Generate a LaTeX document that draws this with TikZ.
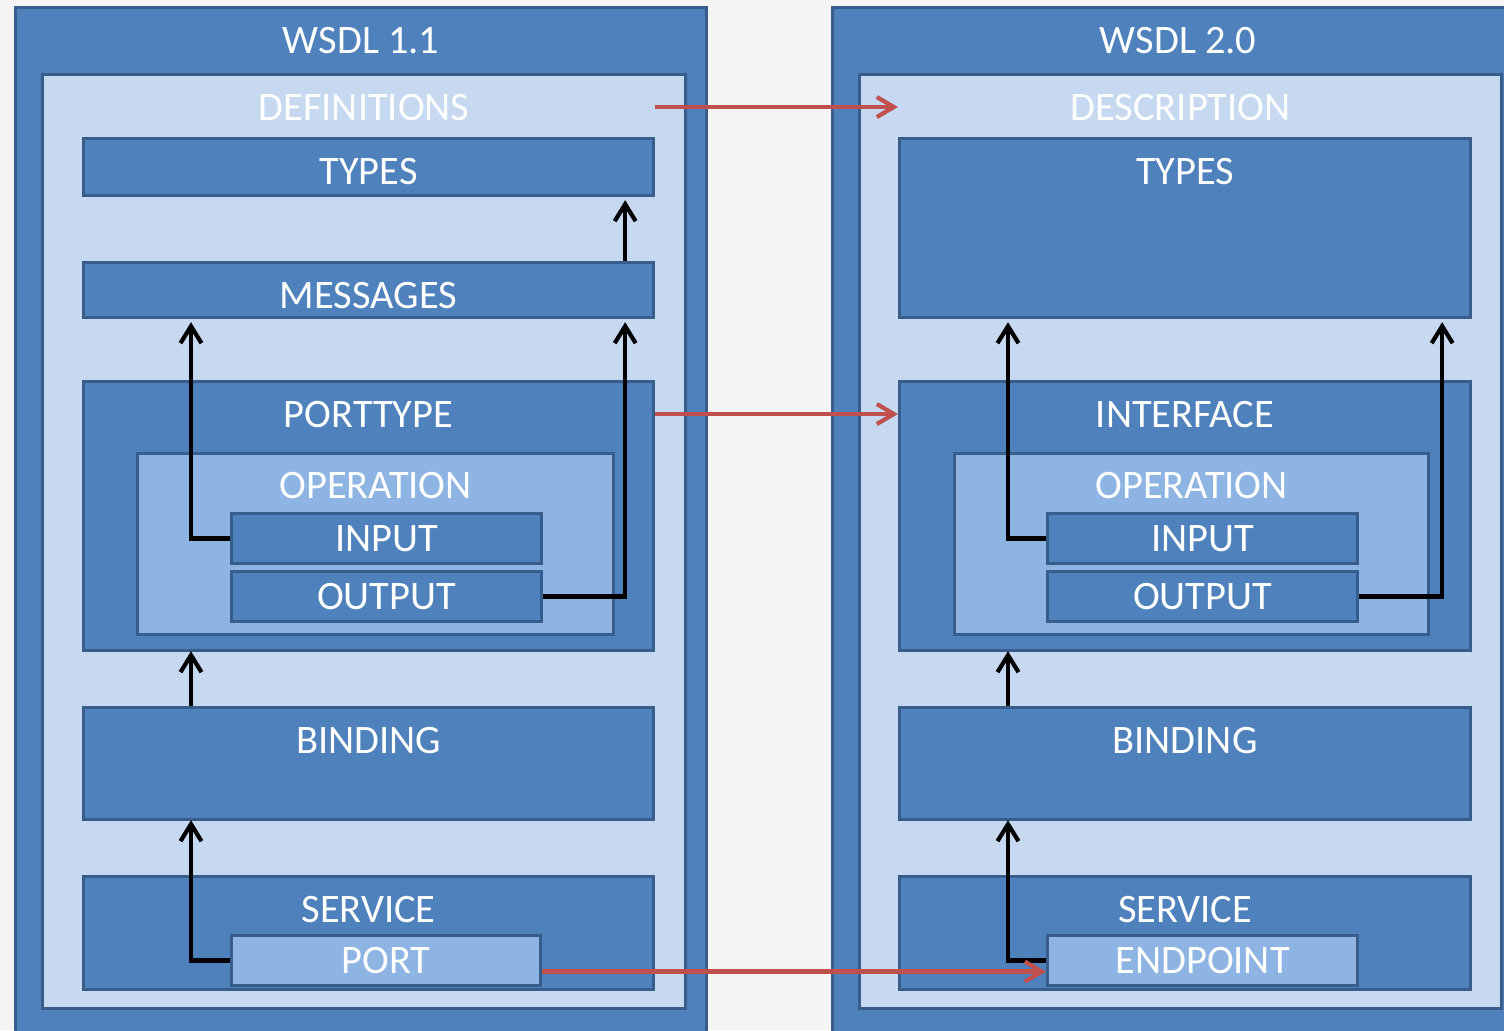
\documentclass[tikz,border=0pt]{standalone}
\usepackage{fontspec}
\setmainfont{Carlito}
\usetikzlibrary{arrows.meta,positioning}

\definecolor{bgcol}{HTML}{F4F4F4}
\definecolor{midblue}{HTML}{4F81BD}
\definecolor{edgeblue}{HTML}{385D8A}
\definecolor{paleblue}{HTML}{C6D9F1}
\definecolor{opblue}{HTML}{8EB4E3}
\definecolor{maproute}{HTML}{C0504D}

\tikzset{
  box/.style={draw=edgeblue, line width=0.9pt, fill=midblue, inner sep=0pt,
    anchor=north west, text=white, font=\fontsize{11.5}{13}\selectfont},
  palebox/.style={box, fill=paleblue},
  opbox/.style={box, fill=opblue},
  lbl/.style={text=white, anchor=base, inner sep=0pt, font=\fontsize{11.5}{13}\selectfont},
  link/.style={line width=1.2pt, black, -{Straight Barb[length=1.7mm,width=2.1mm]}, shorten >=0.3mm},
  maplink/.style={line width=1.2pt, maproute, -{Straight Barb[length=1.7mm,width=2mm]}}
}

\begin{document}
\begin{tikzpicture}

    % Page and clipping
    \clip (0,0) rectangle (15.04,-10.30);
    \fill[bgcol] (0,0) rectangle (15.04,-10.30);

    % WSDL 1.1 column
    \node[box, minimum width=6.91cm, minimum height=10.6cm] (outerA) at (0.14,-0.06) {};
    \node[lbl] (wsdlA) at ([yshift=-4.7mm]outerA.north) {WSDL 1.1};
    \node[palebox, minimum width=6.43cm, minimum height=9.34cm] (defsA) at (0.41,-0.73) {};
    \node[lbl] (defA) at ([yshift=-4.7mm]defsA.north) {DEFINITIONS};

    \node[box, minimum width=5.70cm, minimum height=0.57cm] (typesA) at (0.82,-1.37) {};
    \node[lbl] (typlA) at ([yshift=-4.7mm]typesA.north) {TYPES};
    \node[box, minimum width=5.70cm, minimum height=0.55cm] (msgA) at (0.82,-2.61) {};
    \node[lbl] (msglA) at ([yshift=-4.7mm]msgA.north) {MESSAGES};

    \node[box, minimum width=5.70cm, minimum height=2.69cm] (ptA) at (0.82,-3.80) {};
    \node[lbl] (ptlA) at ([yshift=-4.7mm]ptA.north) {PORTTYPE};
    \node[opbox, minimum width=4.76cm, minimum height=1.81cm] (opA) at (1.36,-4.52) {};
    \node[lbl] (oplA) at ([yshift=-4.6mm]opA.north) {OPERATION};
    \node[box, minimum width=3.10cm, minimum height=0.50cm] (inA) at (2.30,-5.12) {INPUT};
    \node[box, minimum width=3.10cm, minimum height=0.50cm] (outA) at (2.30,-5.70) {OUTPUT};

    \node[box, minimum width=5.70cm, minimum height=1.12cm] (bindA) at (0.82,-7.06) {};
    \node[lbl] (bdlA) at ([yshift=-4.7mm]bindA.north) {BINDING};
    \node[box, minimum width=5.70cm, minimum height=1.13cm] (svcA) at (0.82,-8.75) {};
    \node[lbl] (svlA) at ([yshift=-4.7mm]svcA.north) {SERVICE};
    \node[opbox, minimum width=3.09cm, minimum height=0.50cm] (portA) at (2.30,-9.34) {PORT};

    % WSDL 2.0 column
    \node[box, minimum width=6.91cm, minimum height=10.6cm] (outerB) at (8.31,-0.06) {};
    \node[lbl] (wsdlB) at ([yshift=-4.7mm]outerB.north) {WSDL 2.0};
    \node[palebox, minimum width=6.42cm, minimum height=9.34cm] (defsB) at (8.58,-0.73) {};
    \node[lbl] (desB) at ([yshift=-4.7mm]defsB.north) {DESCRIPTION};

    \node[box, minimum width=5.71cm, minimum height=1.79cm] (typesB) at (8.98,-1.37) {};
    \node[lbl] (typlB) at ([yshift=-4.7mm]typesB.north) {TYPES};

    \node[box, minimum width=5.71cm, minimum height=2.69cm] (ifB) at (8.98,-3.80) {};
    \node[lbl] (iflB) at ([yshift=-4.7mm]ifB.north) {INTERFACE};
    \node[opbox, minimum width=4.74cm, minimum height=1.81cm] (opB) at (9.53,-4.52) {};
    \node[lbl] (oplB) at ([yshift=-4.6mm]opB.north) {OPERATION};
    \node[box, minimum width=3.10cm, minimum height=0.50cm] (inB) at (10.46,-5.12) {INPUT};
    \node[box, minimum width=3.10cm, minimum height=0.50cm] (outB) at (10.46,-5.70) {OUTPUT};

    \node[box, minimum width=5.71cm, minimum height=1.12cm] (bindB) at (8.98,-7.06) {};
    \node[lbl] (bdlB) at ([yshift=-4.7mm]bindB.north) {BINDING};
    \node[box, minimum width=5.71cm, minimum height=1.13cm] (svcB) at (8.98,-8.75) {};
    \node[lbl] (svlB) at ([yshift=-4.7mm]svcB.north) {SERVICE};
    \node[opbox, minimum width=3.10cm, minimum height=0.50cm] (endB) at (10.46,-9.34) {ENDPOINT};

    % References inside WSDL 1.1
    \draw[link] ([xshift=-3mm]msgA.north east) -- ([xshift=-3mm]typesA.south east);
    \draw[link] (inA.west) -| ([xshift=1.09cm]msgA.south west);
    \draw[link] (outA.east) -| ([xshift=-3mm]msgA.south east);
    \draw[link, shorten >=-0.1mm] ([xshift=1.09cm]bindA.north west) -- ([xshift=1.09cm]ptA.south west);
    \draw[link, shorten >=-0.1mm] (portA.west) -| ([xshift=1.09cm]bindA.south west);

    % References inside WSDL 2.0
    \draw[link] (inB.west) -| ([xshift=1.1cm]typesB.south west);
    \draw[link] (outB.east) -| ([xshift=-3mm]typesB.south east);
    \draw[link, shorten >=-0.1mm] ([xshift=1.1cm]bindB.north west) -- ([xshift=1.1cm]ifB.south west);
    \draw[link, shorten >=-0.1mm] (endB.west) -| ([xshift=1.1cm]bindB.south west);

    % Mapping 1.1 to 2.0
    \draw[maplink] (typesA.east |- defA) -- (typesB.west |- defA);
    \draw[maplink] (ptA.east |- ptlA) -- (ifB.west |- ptlA);
    \draw[maplink] ([yshift=-1.1mm]portA.east) -- ([yshift=-1.1mm]endB.west);

\end{tikzpicture}
\end{document}
